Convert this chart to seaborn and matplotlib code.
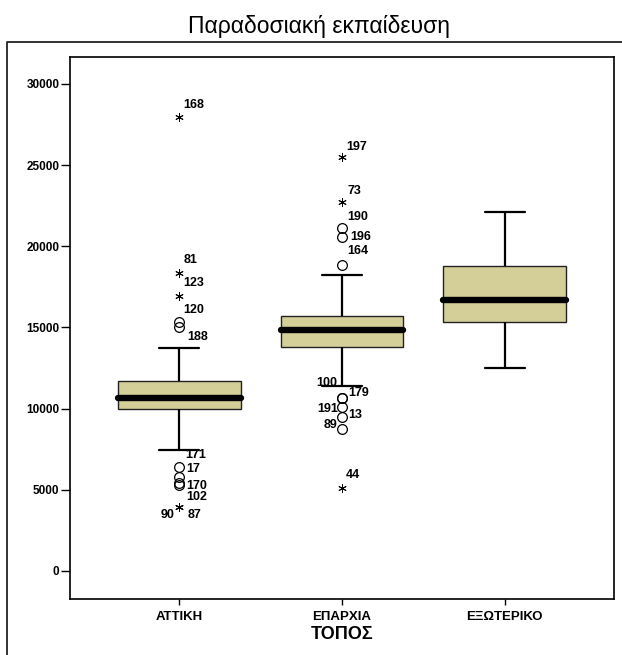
import matplotlib
matplotlib.use("Agg")
import matplotlib.pyplot as plt
import pandas as pd
import seaborn as sns
from matplotlib.lines import Line2D

# ---------------- data ----------------
categories = ["ΑΤΤΙΚΗ", "ΕΠΑΡΧΙΑ", "ΕΞΩΤΕΡΙΚΟ"]
whisker_low = [7454, 11415, 12505]
q1_values = [9961, 13781, 15321]
median_values = [10676, 14866, 16713]
q3_values = [11723, 15709, 18770]
whisker_high = [13737, 18253, 22115]

outlier_category = ["ΑΤΤΙΚΗ"] * 11 + ["ΕΠΑΡΧΙΑ"] * 11
outlier_value = [27986, 18376, 16941, 15358, 15013, 6425, 5809, 5403, 5300, 3961, 3961,
                 25485, 22712, 21111, 20556, 18870, 10639, 10639, 10084, 9505, 8748, 5133]
outlier_kind = ["*", "*", "*", "o", "o", "o", "o", "o", "o", "*", "*",
                "*", "*", "o", "o", "o", "o", "o", "o", "o", "o", "*"]
outlier_case = ["168", "81", "123", "120", "188", "171", "17", "170", "102", "90", "87",
                "197", "73", "190", "196", "164", "100", "179", "191", "13", "89", "44"]

yticks = [0, 5000, 10000, 15000, 20000, 25000, 30000]
title = "Παραδοσιακή εκπαίδευση"
xlabel = "ΤΟΠΟΣ"

# label placement (pixels: dx, dy upward, horizontal alignment) -- layout only
label_dx = [4, 4, 4, 4, 8, 6, 7, 7, 7, -5, 8,
            4.5, 5, 5.5, 8, 5, -4.5, 6.5, -4, 6.5, -4.5, 4]
label_dy = [12, 12.7, 12.7, 11.7, -10, 12, 7.5, -3.0, -12.5, -8.3, -8.3,
            10.6, 11.3, 11.6, 0.5, 13.7, 15, 5.6, -2, 1.4, 4, 12.7]
label_ha = ["left"] * 9 + ["right", "left",
            "left", "left", "left", "left", "left", "right", "left", "right", "left", "right", "left"]

# ---------------- build figure ----------------
rows = []
for i, c in enumerate(categories):
    for v in (whisker_low[i], q1_values[i], median_values[i], q3_values[i], whisker_high[i]):
        rows.append({"ΤΟΠΟΣ": c, "value": v})
box_df = pd.DataFrame(rows)

sns.set_theme(style="white")
plt.rcParams["font.family"] = ["Liberation Sans", "DejaVu Sans"]
plt.rcParams["text.color"] = "black"
plt.rcParams["axes.labelcolor"] = "black"
plt.rcParams["xtick.color"] = "black"
plt.rcParams["ytick.color"] = "black"

fig = plt.figure(figsize=(6.22, 6.55), dpi=100)
ax = fig.add_axes([70 / 622, 1 - 599 / 655, (614 - 70) / 622, (599 - 57) / 655])

sns.boxplot(
    data=box_df, x="ΤΟΠΟΣ", y="value", order=categories, ax=ax,
    whis=(0, 100), width=0.755, color="#D4CF98", saturation=1,
    linecolor="#222222", linewidth=1.0, showfliers=False,
    medianprops=dict(color="black", linewidth=4.6, solid_capstyle="round"),
    whiskerprops=dict(color="black", linewidth=1.6),
    capprops=dict(color="black", linewidth=1.6),
    capwidths=0.25,
)

pos = [categories.index(c) for c in outlier_category]
for x, v, k in zip(pos, outlier_value, outlier_kind):
    if k == "o":
        ax.plot(x, v, marker="o", markersize=7, markerfacecolor="none",
                markeredgecolor="black", markeredgewidth=0.9, linestyle="none")
    else:
        ax.plot(x, v, marker=(6, 2, 0), markersize=6, color="black",
                markeredgewidth=0.7, linestyle="none")

for x, v, t, dx, dy, ha in zip(pos, outlier_value, outlier_case, label_dx, label_dy, label_ha):
    ax.annotate(t, xy=(x, v), xytext=(dx, dy), textcoords="offset pixels",
                ha=ha, va="center", fontsize=9, fontweight="bold", color="black")

ax.set_xlim(-0.67, 2.67)
ax.set_ylim(-1725, 31663)
ax.set_yticks(yticks)
ax.set_yticklabels([str(t) for t in yticks])
ax.tick_params(axis="y", length=6.5, width=1, pad=1, labelsize=8.5, direction="out",
               left=True, colors="black")
ax.tick_params(axis="x", length=4.3, width=1, pad=4, labelsize=9.5, direction="out",
               bottom=True, colors="black")
for lab in ax.get_xticklabels() + ax.get_yticklabels():
    lab.set_fontweight("bold")
ax.set_ylabel("")
ax.set_xlabel(xlabel, fontsize=13, fontweight="bold", labelpad=2.5, color="black")
for s in ax.spines.values():
    s.set_visible(True)
    s.set_color("black")
    s.set_linewidth(1.2)

# outer frame
fy = 1 - 42 / 655
fx = 7 / 622
fig.add_artist(Line2D([fx, fx, 1.0], [0, fy, fy], transform=fig.transFigure,
                      color="#222222", linewidth=1.3))

fig.text(319 / 622, 1 - 27 / 655, title, ha="center", va="center", fontsize=16.5,
         color="black")

fig.savefig("out.png", dpi=100)
